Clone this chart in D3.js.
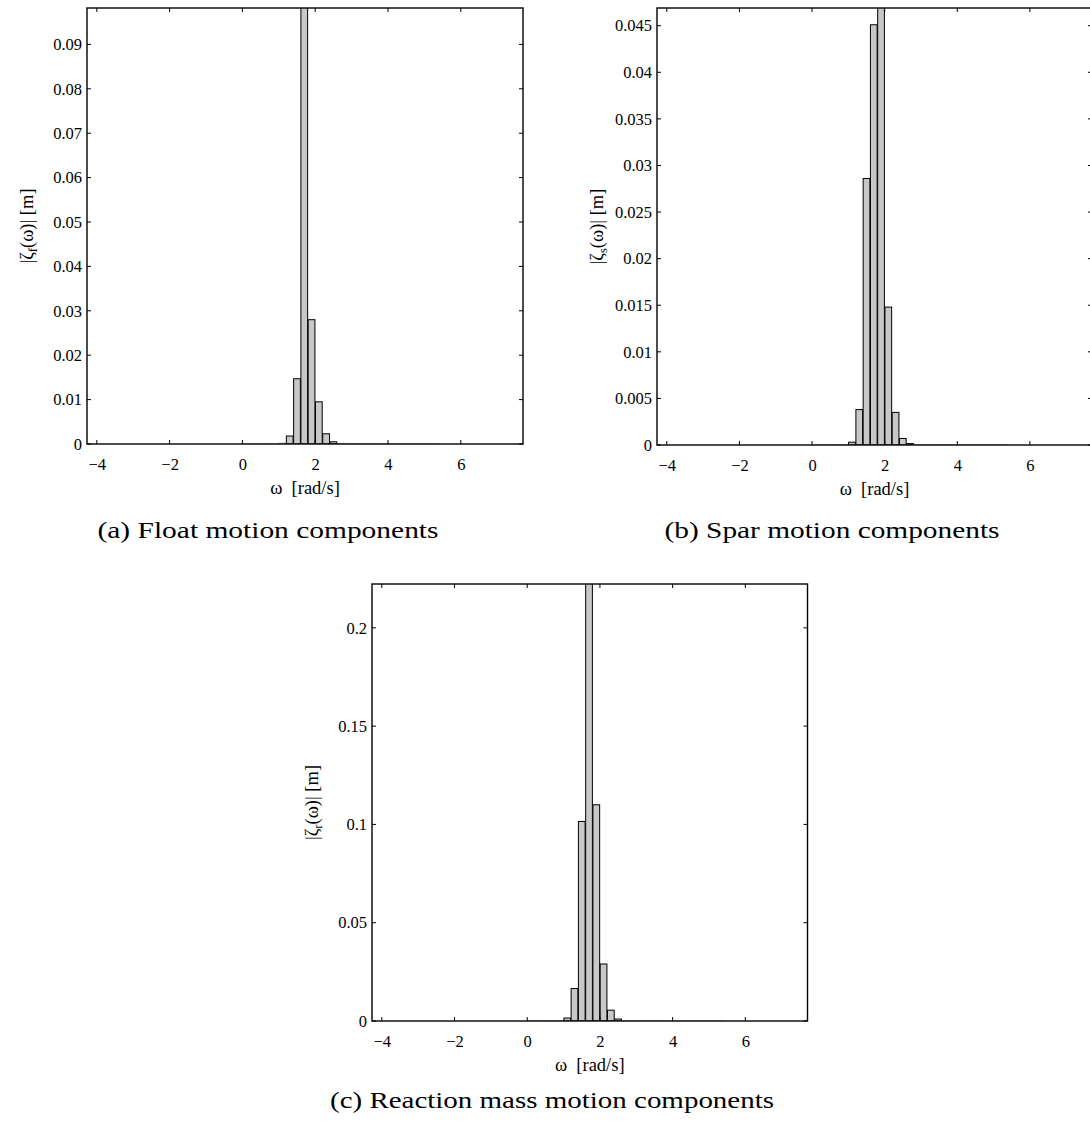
<!DOCTYPE html>
<html>
<head>
<meta charset="utf-8">
<script src="https://cdn.jsdelivr.net/npm/d3@7"></script>
<style>
  body { margin: 0; background: #fff; }
  svg { display: block; }
  text { font-family: "Liberation Serif", "Times New Roman", serif; fill: #000; }
</style>
</head>
<body>
<svg id="fig" width="1090" height="1124"></svg>
<script>
// frequency bins (bar centres) [rad/s]
var omega = [0.1, 0.3, 0.5, 0.7, 0.9, 1.1, 1.3, 1.5, 1.7, 1.9, 2.1, 2.3, 2.5, 2.7,
             2.9, 3.1, 3.3, 3.5, 3.7, 3.9, 4.1, 4.3, 4.5, 4.7, 4.9, 5.1, 5.3]

// amplitude of each component [m]
var floatAmp = [0.00002, 0.00002, 0.00003, 0.00004, 0.00006, 0.0002, 0.0018, 0.0147, 0.16, 0.028, 0.0095, 0.0023, 0.0005, 0.00015,
                0.00008, 0.00006, 0.00005, 0.00004, 0.00004, 0.00003, 0.00003, 0.00003, 0.00002, 0.00002, 0.00002, 0.00002, 0.00002]
var sparAmp  = [0.00001, 0.00001, 0.00001, 0.00002, 0.00004, 0.0003, 0.0038, 0.0286, 0.0451, 0.07, 0.0148, 0.0035, 0.0007, 0.00015,
                0.00005, 0.00003, 0.00002, 0.00002, 0.00002, 0.00001, 0.00001, 0.00001, 0.00001, 0.00001, 0.00001, 0.00001, 0.00001]
var reactAmp = [0.00005, 0.00005, 0.00008, 0.0001, 0.0002, 0.0015, 0.0165, 0.1015, 0.35, 0.110, 0.029, 0.0055, 0.001, 0.0002,
                0.0001, 0.00008, 0.00006, 0.00005, 0.00005, 0.00004, 0.00004, 0.00003, 0.00003, 0.00003, 0.00002, 0.00002, 0.00002]

var xTicks = [-4, -2, 0, 2, 4, 6]
var floatTicks = [0, 0.01, 0.02, 0.03, 0.04, 0.05, 0.06, 0.07, 0.08, 0.09]
var sparTicks  = [0, 0.005, 0.01, 0.015, 0.02, 0.025, 0.03, 0.035, 0.04, 0.045]
var reactTicks = [0, 0.05, 0.1, 0.15, 0.2]

var xLim = [-4.27, 7.71]
var binWidth = 0.185

var svg = d3.select("#fig")

function fmt(v) {
    if (v === 0) return "0"
    return String(+v.toFixed(4))
}
function minus(s) { return s.replace("-", "\u2212") }

function drawPanel(p) {
    var g = svg.append("g")
    var x = d3.scaleLinear().domain(xLim).range([p.left, p.right])
    var y = d3.scaleLinear().domain([0, p.yMax]).range([p.bottom, p.top])

    var clipId = "clip" + p.id
    svg.append("clipPath").attr("id", clipId)
        .append("rect")
        .attr("x", p.left).attr("y", p.top)
        .attr("width", p.right - p.left).attr("height", p.bottom - p.top)

    // bars
    g.append("g").attr("clip-path", "url(#" + clipId + ")")
        .selectAll("rect")
        .data(omega.map(function(w, i) { return [w, p.values[i]] }))
        .enter().append("rect")
        .attr("x", function(d) { return x(d[0] - binWidth / 2) })
        .attr("width", function(d) { return x(d[0] + binWidth / 2) - x(d[0] - binWidth / 2) })
        .attr("y", function(d) { return y(d[1]) })
        .attr("height", function(d) { return p.bottom - y(d[1]) })
        .attr("fill", "#c8c8c8")
        .attr("stroke", function(d) { return (p.bottom - y(d[1])) < 1 ? "#b0b0b0" : "#000" })
        .attr("stroke-width", 1)

    // ticks, all pointing inwards (bottom, top, left, right)
    var tl = 4
    var bottomAx = d3.axisBottom(x).tickValues(xTicks).tickSize(0).tickPadding(14).tickFormat(function(d) { return minus(String(d)) })
    var gb = g.append("g").attr("transform", "translate(0," + p.bottom + ")").call(bottomAx)
    gb.select(".domain").remove()
    gb.selectAll("text").attr("font-size", 16.5).attr("font-family", "Liberation Serif")

    var tickG = g.append("g").attr("stroke", "#000").attr("stroke-width", 1)
    xTicks.forEach(function(t) {
        tickG.append("line").attr("x1", x(t)).attr("x2", x(t)).attr("y1", p.bottom).attr("y2", p.bottom - tl)
        tickG.append("line").attr("x1", x(t)).attr("x2", x(t)).attr("y1", p.top).attr("y2", p.top + tl)
    })
    p.yTicks.forEach(function(t) {
        tickG.append("line").attr("x1", p.left).attr("x2", p.left + tl).attr("y1", y(t)).attr("y2", y(t))
        tickG.append("line").attr("x1", p.right).attr("x2", p.right - tl).attr("y1", y(t)).attr("y2", y(t))
    })

    var leftAx = d3.axisLeft(y).tickValues(p.yTicks).tickSize(0).tickPadding(5).tickFormat(fmt)
    var gl = g.append("g").attr("transform", "translate(" + p.left + ",0)").call(leftAx)
    gl.select(".domain").remove()
    gl.selectAll("text").attr("font-size", 16.5).attr("font-family", "Liberation Serif")

    // box
    g.append("rect")
        .attr("x", p.left).attr("y", p.top)
        .attr("width", p.right - p.left).attr("height", p.bottom - p.top)
        .attr("fill", "none").attr("stroke", "#000").attr("stroke-width", 1.4)

    // x label
    g.append("text")
        .attr("x", (p.left + p.right) / 2).attr("y", p.bottom + 50)
        .attr("text-anchor", "middle").attr("font-size", 18.5)
        .attr("xml:space", "preserve")
        .text("\u03c9  [rad/s]")

    // y label
    var yl = g.append("text")
        .attr("transform", "translate(" + (p.left - 54) + "," + ((p.top + p.bottom) / 2) + ") rotate(-90)")
        .attr("text-anchor", "middle").attr("font-size", 18.5)
    yl.append("tspan").text("|\u03b6")
    yl.append("tspan").attr("font-size", 12.5).attr("dy", 4).text(p.sub)
    yl.append("tspan").attr("dy", -4).text("(\u03c9)| [m]")

    // caption
    svg.append("text")
        .attr("x", p.capX).attr("y", p.capY)
        .attr("text-anchor", "middle").attr("font-size", 24)
        .attr("textLength", p.capW).attr("lengthAdjust", "spacingAndGlyphs")
        .text(p.caption)
}

drawPanel({ id: "a", left: 87, right: 523, top: 8, bottom: 444, yMax: 0.0982,
    values: floatAmp, yTicks: floatTicks, sub: "f",
    caption: "(a)  Float motion components", capX: 268, capY: 538, capW: 341 })

drawPanel({ id: "b", left: 657, right: 1092, top: 8, bottom: 445, yMax: 0.0469,
    values: sparAmp, yTicks: sparTicks, sub: "s",
    caption: "(b)  Spar motion components", capX: 832, capY: 538, capW: 335 })

drawPanel({ id: "c", left: 372, right: 807.5, top: 584, bottom: 1021, yMax: 0.2223,
    values: reactAmp, yTicks: reactTicks, sub: "r",
    caption: "(c)  Reaction mass motion components", capX: 552, capY: 1108, capW: 444 })
</script>
</body>
</html>
